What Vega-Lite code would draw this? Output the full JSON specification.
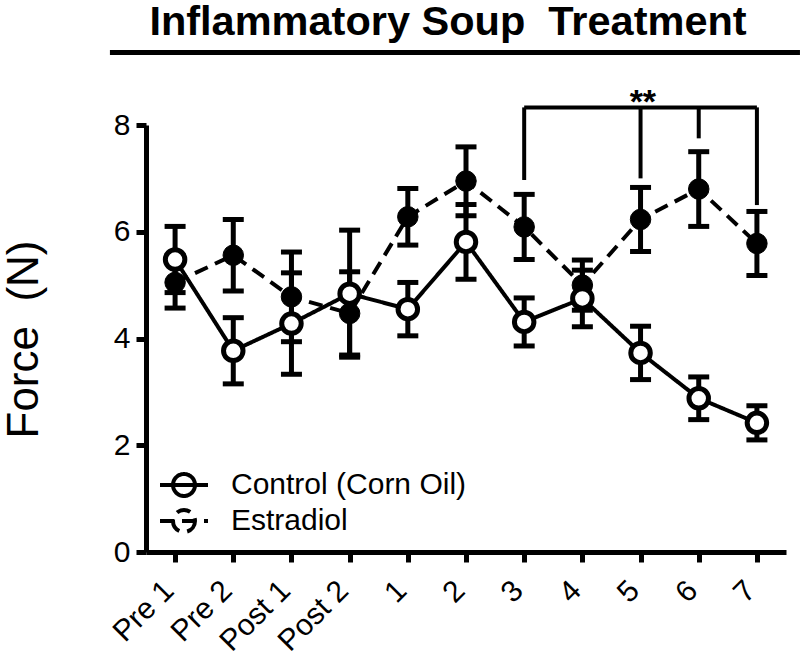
{
  "$schema": "https://vega.github.io/schema/vega-lite/v6.json",
  "width": 640,
  "height": 427,
  "autosize": {"type": "none"},
  "padding": {"left": 146, "top": 125, "right": 14, "bottom": 105},
  "background": "white",
  "title": {
    "text": "Inflammatory Soup\u00a0 Treatment",
    "font": "Liberation Sans",
    "fontSize": 41.5,
    "fontWeight": "bold",
    "color": "black",
    "anchor": "middle",
    "dx": -18,
    "offset": 6
  },
  "config": {
    "font": "Liberation Sans",
    "view": {"stroke": null},
    "axis": {
      "grid": false,
      "domainColor": "black",
      "domainWidth": 5,
      "tickColor": "black",
      "tickWidth": 5,
      "tickSize": 10,
      "labelColor": "black",
      "labelFont": "Liberation Sans",
      "labelFontSize": 30,
      "titleColor": "black",
      "titleFont": "Liberation Sans"
    }
  },
  "datasets": {
    "force": [
      {"time": "Pre 1", "idx": 0, "group": "Control (Corn Oil)", "force": 5.48, "lo": 4.86, "hi": 6.10},
      {"time": "Pre 2", "idx": 1, "group": "Control (Corn Oil)", "force": 3.77, "lo": 3.15, "hi": 4.39},
      {"time": "Post 1", "idx": 2, "group": "Control (Corn Oil)", "force": 4.28, "lo": 3.33, "hi": 5.23},
      {"time": "Post 2", "idx": 3, "group": "Control (Corn Oil)", "force": 4.84, "lo": 3.65, "hi": 6.03},
      {"time": "1", "idx": 4, "group": "Control (Corn Oil)", "force": 4.55, "lo": 4.05, "hi": 5.05},
      {"time": "2", "idx": 5, "group": "Control (Corn Oil)", "force": 5.81, "lo": 5.11, "hi": 6.51},
      {"time": "3", "idx": 6, "group": "Control (Corn Oil)", "force": 4.31, "lo": 3.86, "hi": 4.76},
      {"time": "4", "idx": 7, "group": "Control (Corn Oil)", "force": 4.75, "lo": 4.22, "hi": 5.28},
      {"time": "5", "idx": 8, "group": "Control (Corn Oil)", "force": 3.73, "lo": 3.23, "hi": 4.23},
      {"time": "6", "idx": 9, "group": "Control (Corn Oil)", "force": 2.88, "lo": 2.48, "hi": 3.28},
      {"time": "7", "idx": 10, "group": "Control (Corn Oil)", "force": 2.42, "lo": 2.10, "hi": 2.74},
      {"time": "Pre 1", "idx": 0, "group": "Estradiol", "force": 5.05, "lo": 4.57, "hi": 5.55},
      {"time": "Pre 2", "idx": 1, "group": "Estradiol", "force": 5.56, "lo": 4.89, "hi": 6.23},
      {"time": "Post 1", "idx": 2, "group": "Estradiol", "force": 4.78, "lo": 3.94, "hi": 5.62},
      {"time": "Post 2", "idx": 3, "group": "Estradiol", "force": 4.47, "lo": 3.69, "hi": 5.25},
      {"time": "1", "idx": 4, "group": "Estradiol", "force": 6.28, "lo": 5.75, "hi": 6.81},
      {"time": "2", "idx": 5, "group": "Estradiol", "force": 6.95, "lo": 6.30, "hi": 7.59},
      {"time": "3", "idx": 6, "group": "Estradiol", "force": 6.09, "lo": 5.48, "hi": 6.70},
      {"time": "4", "idx": 7, "group": "Estradiol", "force": 5.00, "lo": 4.53, "hi": 5.47},
      {"time": "5", "idx": 8, "group": "Estradiol", "force": 6.23, "lo": 5.63, "hi": 6.83},
      {"time": "6", "idx": 9, "group": "Estradiol", "force": 6.80, "lo": 6.10, "hi": 7.50},
      {"time": "7", "idx": 10, "group": "Estradiol", "force": 5.78, "lo": 5.18, "hi": 6.38}
    ],
    "bracket": [
      {"x": 6, "x2": 10, "y": 8.33, "y2": 8.33},
      {"x": 6, "x2": 6, "y": 8.33, "y2": 6.97},
      {"x": 8, "x2": 8, "y": 8.33, "y2": 7.0},
      {"x": 9, "x2": 9, "y": 8.33, "y2": 7.75},
      {"x": 10, "x2": 10, "y": 8.33, "y2": 6.5}
    ],
    "stars": [
      {"x": 8.04, "y": 8.22, "label": "**"}
    ]
  },
  "layer": [
    {
      "data": {"name": "force"},
      "mark": {"type": "rule", "color": "black", "strokeWidth": 5, "opacity": 1},
      "encoding": {
        "x": {
          "field": "idx",
          "type": "quantitative",
          "scale": {"domain": [-0.5, 10.5], "nice": false, "zero": false},
          "axis": {
            "title": null,
            "values": [0, 1, 2, 3, 4, 5, 6, 7, 8, 9, 10],
            "labelExpr": "['Pre 1','Pre 2','Post 1','Post 2','1','2','3','4','5','6','7'][datum.value]",
            "labelAngle": -45,
            "labelAlign": "right",
            "labelBaseline": "alphabetic",
            "labelPadding": 30,
            "labelDx": 5.7,
            "labelFlush": false,
            "labelOverlap": false,
            "labelBound": false
          }
        },
        "y": {
          "field": "lo",
          "type": "quantitative",
          "scale": {"domain": [0, 8], "nice": false},
          "axis": {
            "title": "Force\u00a0 (N)",
            "values": [0, 2, 4, 6, 8],
            "titleFontSize": 44,
            "titleFontWeight": "normal",
            "titleAngle": -90,
            "titleBaseline": "alphabetic",
            "titleAlign": "center",
            "titleX": -109,
            "titleY": 214,
            "labelPadding": 6
          }
        },
        "y2": {"field": "hi"}
      }
    },
    {
      "data": {"name": "force"},
      "mark": {"type": "tick", "orient": "horizontal", "color": "black", "size": 21, "thickness": 5, "opacity": 1},
      "encoding": {
        "x": {"field": "idx", "type": "quantitative"},
        "y": {"field": "lo", "type": "quantitative"}
      }
    },
    {
      "data": {"name": "force"},
      "mark": {"type": "tick", "orient": "horizontal", "color": "black", "size": 21, "thickness": 5, "opacity": 1},
      "encoding": {
        "x": {"field": "idx", "type": "quantitative"},
        "y": {"field": "hi", "type": "quantitative"}
      }
    },
    {
      "data": {"name": "force"},
      "mark": {"type": "line", "color": "black", "strokeWidth": 4, "opacity": 1},
      "encoding": {
        "x": {"field": "idx", "type": "quantitative"},
        "y": {"field": "force", "type": "quantitative"},
        "detail": {"field": "group"},
        "strokeDash": {
          "field": "group",
          "type": "nominal",
          "scale": {"domain": ["Control (Corn Oil)", "Estradiol"], "range": [[1, 0], [14, 8]]},
          "legend": {
            "title": null,
            "orient": "none",
            "legendX": 21,
            "legendY": 343,
            "symbolType": "M-1.6,0H1.6M0.733,0A0.733,0.733,0,1,1,-0.733,0A0.733,0.733,0,1,1,0.733,0Z",
            "symbolSize": 900,
            "symbolStrokeWidth": 4,
            "symbolStrokeColor": "black",
            "labelFont": "Liberation Sans",
            "labelFontSize": 30,
            "labelColor": "black",
            "labelLimit": 400,
            "labelOffset": 30,
            "rowPadding": -4,
            "padding": 0,
            "encode": {
              "symbols": {
                "update": {
                  "fill": {"condition": {"test": "datum.value === 'Estradiol'", "value": "black"}, "value": "white"},
                  "fillOpacity": {"value": 1},
                  "stroke": {"value": "black"},
                  "strokeWidth": {"value": 4},
                  "opacity": {"value": 1}
                }
              }
            }
          }
        }
      }
    },
    {
      "data": {"name": "force"},
      "transform": [{"filter": "datum.group === 'Estradiol'"}],
      "mark": {"type": "point", "shape": "circle", "filled": true, "fill": "black", "stroke": "black", "strokeWidth": 1, "size": 420, "opacity": 1, "fillOpacity": 1},
      "encoding": {
        "x": {"field": "idx", "type": "quantitative"},
        "y": {"field": "force", "type": "quantitative"}
      }
    },
    {
      "data": {"name": "force"},
      "transform": [{"filter": "datum.group === 'Control (Corn Oil)'"}],
      "mark": {"type": "point", "shape": "circle", "fill": "white", "stroke": "black", "strokeWidth": 5, "size": 380, "opacity": 1, "fillOpacity": 1},
      "encoding": {
        "x": {"field": "idx", "type": "quantitative"},
        "y": {"field": "force", "type": "quantitative"}
      }
    },
    {
      "data": {"name": "bracket"},
      "mark": {"type": "rule", "color": "black", "strokeWidth": 4},
      "encoding": {
        "x": {"field": "x", "type": "quantitative"},
        "x2": {"field": "x2"},
        "y": {"field": "y", "type": "quantitative"},
        "y2": {"field": "y2"}
      }
    },
    {
      "data": {"name": "stars"},
      "mark": {"type": "text", "font": "Liberation Sans", "fontSize": 34, "fontWeight": "bold", "color": "black", "align": "center", "baseline": "alphabetic"},
      "encoding": {
        "x": {"field": "x", "type": "quantitative"},
        "y": {"field": "y", "type": "quantitative"},
        "text": {"field": "label"}
      }
    },
    {
      "data": {"values": [{}]},
      "mark": {"type": "rule", "color": "black", "strokeWidth": 5},
      "encoding": {
        "x": {"datum": -1.12, "type": "quantitative"},
        "x2": {"datum": 10.74},
        "y": {"datum": 9.36, "type": "quantitative"}
      }
    }
  ]
}
